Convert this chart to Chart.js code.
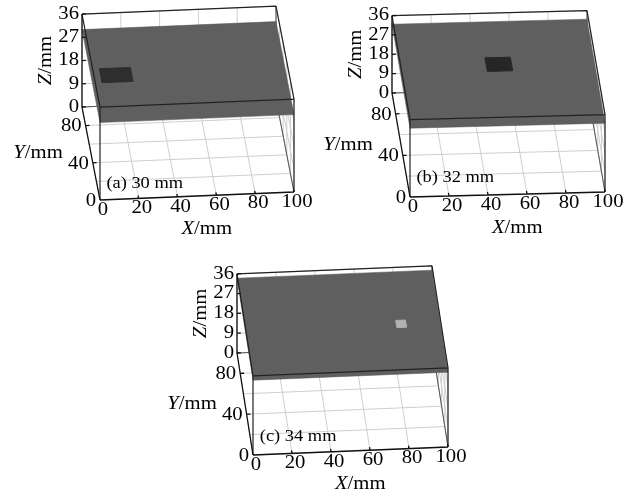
<!DOCTYPE html>
<html lang="en">
<head>
  <meta charset="UTF-8" />
  <title>Surface scans</title>
  <style>
    html, body { margin: 0; padding: 0; background: #fff; }
    body { width: 629px; height: 494px; position: relative; overflow: hidden; }
    canvas { position: absolute; }
  </style>
</head>
<body>
  <canvas id="panel-a" width="320" height="245" style="left:0;top:0"></canvas>
  <canvas id="panel-b" width="319" height="245" style="left:310px;top:0"></canvas>
  <canvas id="panel-c" width="320" height="244" style="left:150px;top:250px"></canvas>

  <script src="https://cdn.jsdelivr.net/npm/chart.js"></script>
  <script>
    // values (mm)
    const panelNames = ['(a) 30 mm', '(b) 32 mm', '(c) 34 mm'];
    const surfaceZ = [30, 32, 34];
    const defectX = [13, 51, 80];
    const defectY = [50, 59, 49];
    const defectW = [16, 13, 5];
    const defectL = [15, 13, 7];
    const xTicks = [0, 20, 40, 60, 80, 100];
    const yTicks = [0, 40, 80];
    const yGrid = [0, 20, 40, 60, 80, 100];
    const zTicks = [0, 9, 18, 27, 36];
    const xMax = 100, yMax = 100, zMax = 36;

    // camera of each panel: pixel of the origin, pixel step per mm along X, Y, Z
    const views = [
      { id: 'panel-a', w: 320, h: 245, o: [100, 200], ex: [1.94, -0.08], ey: [-0.18, -0.93], ez: [0, -2.58], spot: '#2e2e2e' },
      { id: 'panel-b', w: 319, h: 245, o: [100, 197], ex: [1.95, -0.05], ey: [-0.18, -1.04], ez: [0, -2.15], spot: '#262626' },
      { id: 'panel-c', w: 320, h: 244, o: [103, 205], ex: [1.95, -0.08], ey: [-0.16, -1.02], ez: [0, -2.2], spot: '#b2b2b2' }
    ];

    const FONT = "'Liberation Serif', 'Times New Roman', Times, serif";
    const STRETCH = 1.15;
    const GAP = { x: NaN, y: NaN };

    function project(v, X, Y, Z) {
      return {
        x: v.o[0] + X * v.ex[0] + Y * v.ey[0] + Z * v.ez[0],
        y: v.o[1] + X * v.ex[1] + Y * v.ey[1] + Z * v.ez[1]
      };
    }

    function segments(v, segs) {
      const out = [];
      segs.forEach(([p, q]) => out.push(project(v, ...p), project(v, ...q), GAP));
      return out;
    }

    function polygon(v, pts) {
      const out = pts.map(p => project(v, ...p));
      out.push(out[0]);
      return out;
    }

    function lines(data, color, width, order) {
      return { data, showLine: true, borderColor: color, borderWidth: width, pointRadius: 0, fill: false, order };
    }

    function buildDatasets(v, i) {
      const h = surfaceZ[i];
      const grid = [
        ...xTicks.map(x => [[x, 0, 0], [x, yMax, 0]]),
        ...yGrid.map(y => [[0, y, 0], [xMax, y, 0]]),
        ...xTicks.map(x => [[x, yMax, 0], [x, yMax, zMax]]),
        ...zTicks.map(z => [[0, yMax, z], [xMax, yMax, z]]),
        ...yGrid.map(y => [[xMax, y, 0], [xMax, y, zMax]]),
        ...zTicks.map(z => [[xMax, 0, z], [xMax, yMax, z]])
      ];
      const backEdges = [
        [[xMax, 0, 0], [xMax, yMax, 0]],
        [[0, yMax, 0], [xMax, yMax, 0]],
        [[xMax, yMax, 0], [xMax, yMax, zMax]]
      ];
      const axes = [
        [[0, 0, 0], [xMax, 0, 0]],
        [[0, 0, 0], [0, yMax, 0]],
        [[0, yMax, 0], [0, yMax, zMax]],
        ...xTicks.map(x => [[x, 0, 0], [x, 3, 0]]),
        ...yTicks.map(y => [[0, y, 0], [2, y, 0]]),
        ...zTicks.map(z => [[0, yMax, z], [2, yMax, z]])
      ];
      const frontEdges = [
        [[0, 0, 0], [0, 0, zMax]],
        [[xMax, 0, 0], [xMax, 0, zMax]],
        [[0, 0, zMax], [xMax, 0, zMax]],
        [[0, yMax, zMax], [xMax, yMax, zMax]],
        [[0, 0, zMax], [0, yMax, zMax]],
        [[xMax, 0, zMax], [xMax, yMax, zMax]]
      ];
      const plane = polygon(v, [[0, 0, h], [xMax, 0, h], [xMax, yMax, h], [0, yMax, h]]);
      const x0 = defectX[i] - defectW[i] / 2, x1 = defectX[i] + defectW[i] / 2;
      const y0 = defectY[i] - defectL[i] / 2, y1 = defectY[i] + defectL[i] / 2;
      const spot = polygon(v, [[x0, y0, h], [x1, y0, h], [x1, y1, h], [x0, y1, h]]);

      return [
        lines(segments(v, grid), '#cfcfcf', 1, 10),
        lines(segments(v, backEdges), '#555', 1, 9),
        { data: plane, showLine: true, borderColor: '#555', borderWidth: 0.5, backgroundColor: '#5f5f5f',
          fill: 'shape', pointRadius: 0, order: 6 },
        { data: spot, showLine: true, borderColor: v.spot, borderWidth: 1, backgroundColor: v.spot,
          fill: 'shape', pointRadius: 0, order: 5 },
        lines(segments(v, frontEdges), '#222', 1.2, 2),
        lines(segments(v, axes), '#111', 1.3, 1)
      ];
    }

    function text(ctx, str, x, y, align, size, rot) {
      ctx.save();
      ctx.translate(x, y);
      if (rot) ctx.rotate(rot);
      ctx.scale(STRETCH, 1);
      ctx.font = size + 'px ' + FONT;
      ctx.textAlign = align;
      ctx.textBaseline = 'middle';
      ctx.fillText(str, 0, 0);
      ctx.restore();
    }

    function title(ctx, letter, x, y, size, rot) {
      ctx.save();
      ctx.translate(x, y);
      if (rot) ctx.rotate(rot);
      ctx.scale(STRETCH, 1);
      ctx.textBaseline = 'middle';
      ctx.textAlign = 'left';
      ctx.font = 'italic ' + size + 'px ' + FONT;
      const w1 = ctx.measureText(letter).width;
      ctx.font = size + 'px ' + FONT;
      const w2 = ctx.measureText('/mm').width;
      const start = -(w1 + w2) / 2;
      ctx.font = 'italic ' + size + 'px ' + FONT;
      ctx.fillText(letter, start, 0);
      ctx.font = size + 'px ' + FONT;
      ctx.fillText('/mm', start + w1, 0);
      ctx.restore();
    }

    const axisText = {
      id: 'axisText',
      afterDraw(chart, args, opts) {
        const i = opts.panel;
        const v = views[i];
        const ctx = chart.ctx;
        const sx = chart.scales.x, sy = chart.scales.y;
        const at = (X, Y, Z) => {
          const p = project(v, X, Y, Z);
          return { x: sx.getPixelForValue(p.x), y: sy.getPixelForValue(p.y) };
        };
        ctx.fillStyle = '#000';
        zTicks.forEach(z => { const p = at(0, yMax, z); text(ctx, String(z), p.x - 3, p.y, 'right', 18); });
        yTicks.forEach(y => { const p = at(0, y, 0); text(ctx, String(y), p.x - 4, p.y + 1, 'right', 18); });
        xTicks.forEach(x => { const p = at(x, 0, 0); text(ctx, String(x), p.x + 3, p.y + 10, 'center', 18); });
        let p = at(0, yMax, zMax / 2);
        title(ctx, 'Z', p.x - 36, p.y, 18, -Math.PI / 2);
        p = at(0, yMax / 2, 0);
        title(ctx, 'Y', p.x - 53, p.y, 18);
        p = at(xMax * 0.55, 0, 0);
        title(ctx, 'X', p.x, p.y + 34, 18);
        p = at(0, 20, 0);
        text(ctx, panelNames[i], p.x + 10, p.y + 2, 'left', 16);
      }
    };

    views.forEach((v, i) => {
      new Chart(document.getElementById(v.id), {
        type: 'scatter',
        data: { datasets: buildDatasets(v, i) },
        options: {
          responsive: false,
          animation: false,
          devicePixelRatio: 1,
          layout: { padding: 0 },
          scales: {
            x: { type: 'linear', min: 0, max: v.w, display: false },
            y: { type: 'linear', min: 0, max: v.h, reverse: true, display: false }
          },
          plugins: {
            legend: { display: false },
            tooltip: { enabled: false },
            axisText: { panel: i }
          }
        },
        plugins: [axisText]
      });
    });
  </script>
</body>
</html>
